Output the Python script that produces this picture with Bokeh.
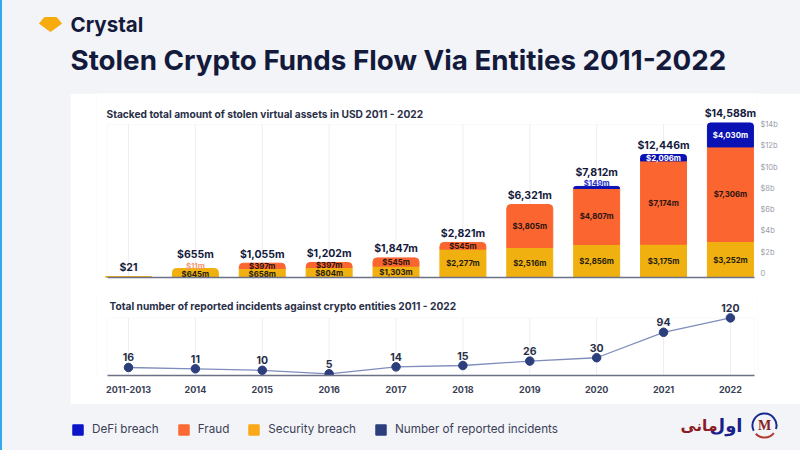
from bokeh.plotting import figure
from bokeh.layouts import column
from bokeh.embed import file_html
from bokeh.resources import INLINE
from bokeh.core.properties import value
from bokeh.models import (ColumnDataSource, CDSView, BooleanFilter, Range1d, LinearAxis, FixedTicker,
                          BoxAnnotation, Legend, LegendItem)

# ---------- data ----------
categories = ["2011-2013", "2014", "2015", "2016", "2017", "2018", "2019", "2020", "2021", "2022"]

# Bar heights as they read against the right-hand axis of the picture ($m)
security_height = [85, 845, 845, 940, 1060, 2660, 2815, 3100, 3125, 3380]
fraud_height = [0, 0, 500, 470, 780, 630, 4040, 5260, 7820, 8880]
defi_height = [0, 0, 0, 0, 0, 0, 0, 190, 600, 2250]

# Printed labels
total_labels = ["$21", "$655m", "$1,055m", "$1,202m", "$1,847m", "$2,821m", "$6,321m", "$7,812m", "$12,446m", "$14,588m"]
security_labels = ["", "$645m", "$658m", "$804m", "$1,303m", "$2,277m", "$2,516m", "$2,856m", "$3,175m", "$3,252m"]
fraud_labels = ["", "$11m", "$397m", "$397m", "$545m", "$545m", "$3,805m", "$4,807m", "$7,174m", "$7,306m"]
defi_labels = ["", "", "", "", "", "", "", "$149m", "$2,096m", "$4,030m"]

incident_height = [16.7, 14, 10.8, 3.5, 18, 20.8, 30, 37, 90, 120]
incident_labels = ["16", "11", "10", "5", "14", "15", "26", "30", "94", "120"]

y_tick_values = [0, 2000, 4000, 6000, 8000, 10000, 12000, 14000]
y_tick_labels = ["0", "$2b", "$4b", "$6b", "$8b", "$10b", "$12b", "$14b"]

legend_labels = ["DeFi breach", "Fraud", "Security breach", "Number of reported incidents"]

# ---------- style ----------
PAGE = "#f2f4f7"
DEFI, FRAUD, SEC, NAVY = "#0a12b4", "#fb652f", "#f0b00f", "#2c3f7c"
INK = "#141a3c"
GRID = "#eeeef2"
FONT = value("Inter")
CARD_W, PAD_L, PAD_R = 730, 26, 43
X_LO, X_HI = -0.314, 9.36
idx = list(range(len(categories)))


def chart(height, top, bottom_border, margin_top=0):
    f = figure(width=CARD_W, height=height, output_backend="svg", toolbar_location=None,
               x_range=Range1d(X_LO - 11 / 66.9, X_HI + 3 / 66.9), y_range=Range1d(0, top),
               min_border_left=PAD_L, min_border_right=PAD_R, min_border_top=0,
               min_border_bottom=bottom_border, x_axis_location=None, y_axis_location=None,
               border_fill_color="white", background_fill_color="white", outline_line_color=None,
               margin=(margin_top, 0, 0, 70), frame_align=False)
    f.grid.visible = False
    return f


def band(width, height, top, bottom):
    f = figure(width=width, height=height, output_backend="svg", toolbar_location=None,
               x_range=Range1d(0, width), y_range=Range1d(bottom, top),
               x_axis_location=None, y_axis_location=None, min_border=0,
               border_fill_color=None, background_fill_color=None, outline_line_color=None,
               margin=0, frame_align=False)
    f.grid.visible = False
    return f


def baseline(f, labels_on):
    ax = LinearAxis(ticker=FixedTicker(ticks=idx if labels_on else []), bounds=(X_LO, X_HI))
    ax.major_tick_line_color = None
    ax.minor_tick_line_color = None
    ax.axis_line_color = "#6d7186"
    ax.axis_line_width = 1.5
    if labels_on:
        ax.major_label_overrides = {i: c for i, c in zip(idx, categories)}
        ax.major_label_text_font = "Inter"
        ax.major_label_text_font_size = "9px"
        ax.major_label_text_font_style = "bold"
        ax.major_label_text_color = "#3a3f55"
        ax.major_label_standoff = 4
    f.add_layout(ax, "below")


def labelled(f, ys, labels, colors, offsets, size):
    keep = [i for i, t in enumerate(labels) if t]
    f.text([idx[i] for i in keep], [ys[i] for i in keep], text=[labels[i] for i in keep],
           text_font=FONT, text_font_style="bold", text_font_size=size,
           text_color=[colors[i] for i in keep], y_offset=[offsets[i] for i in keep],
           text_align="center", text_baseline="middle")


# ---------- header ----------
head = band(800, 93, 0, 93)
head.patch([39, 44, 56, 61, 50], [23, 17, 17, 23, 31], color="#f7ab0c")
head.text([70], [24], text=["Crystal"], text_font=FONT, text_font_style="bold", text_font_size="20.5px",
          text_color=INK, text_baseline="middle")
head.text([70], [59], text=["Stolen Crypto Funds Flow Via Entities 2011-2022"], text_font=FONT,
          text_font_style="bold", text_font_size="27.75px", text_color=INK, text_baseline="middle")

# ---------- stacked bars ----------
PX_PER_M = 0.01065
bars = chart(203, 184 / PX_PER_M, 19)
bars_top = 153 / PX_PER_M
bars.add_layout(BoxAnnotation(left=X_LO, right=X_HI, bottom=0, top=bars_top, fill_alpha=0,
                              line_color=GRID, line_width=1, level="underlay"))
bars.segment(x0=idx[:], y0=[0] * 10, x1=idx[:], y1=[bars_top] * 10, line_color=GRID, line_width=1, level="underlay")

sec_top = security_height
fr_top = [a + b for a, b in zip(sec_top, fraud_height)]
de_top = [a + b for a, b in zip(fr_top, defi_height)]
src = ColumnDataSource(dict(x=idx, s0=[0] * 10, s1=sec_top, f1=fr_top, d1=de_top, cat=categories))
W = 46 / 66.9
R = (4, 4, 0, 0)
sec_round = [b == 0 and i > 0 for i, b in enumerate(fraud_height)]
fr_round = [f > 0 and d == 0 and i < 7 for i, (f, d) in enumerate(zip(fraud_height, defi_height))]
fr_has = [f > 0 for f in fraud_height]
de_has = [d > 0 for d in defi_height]
bars.vbar(x="x", bottom="s0", top="s1", width=W, color=SEC, source=src,
          view=CDSView(filter=BooleanFilter([not v for v in sec_round])))
bars.vbar(x="x", bottom="s0", top="s1", width=W, color=SEC, source=src, border_radius=R,
          view=CDSView(filter=BooleanFilter(sec_round)))
bars.vbar(x="x", bottom="s1", top="f1", width=W, color=FRAUD, source=src,
          view=CDSView(filter=BooleanFilter([h and not r for h, r in zip(fr_has, fr_round)])))
bars.vbar(x="x", bottom="s1", top="f1", width=W, color=FRAUD, source=src, border_radius=R,
          view=CDSView(filter=BooleanFilter(fr_round)))
bars.vbar(x="x", bottom="f1", top="d1", width=W, color=DEFI, source=src, border_radius=(3, 3, 0, 0),
          view=CDSView(filter=BooleanFilter(de_has)))

SEG = "7.8px"
labelled(bars, [h / 2 for h in sec_top], security_labels, ["#241c14"] * 10,
         [1 if h < 1000 else 0 for h in sec_top], SEG)
labelled(bars, [(a + b) / 2 for a, b in zip(sec_top, fr_top)], fraud_labels,
         ["#f09a78" if h == 0 else "#2a1410" for h in fraud_height],
         [-3 if h == 0 else 0 for h in fraud_height], SEG)
labelled(bars, [(a + b) / 2 for a, b in zip(fr_top, de_top)], defi_labels,
         ["#2430c8" if 0 < h < 300 else "white" for h in defi_height],
         [-4 if 0 < h < 300 else 0 for h in defi_height], SEG)
thin_top = [(f == 0 and i == 1) or 0 < d < 300 for i, (f, d) in enumerate(zip(fraud_height, defi_height))]
labelled(bars, de_top, total_labels, [INK] * 10, [-14 if t else -9 for t in thin_top], "10.5px")
bars.text([X_LO], [bars_top], text=["Stacked total amount of stolen virtual assets in USD 2011 - 2022"],
          text_font=FONT, text_font_style="bold", text_font_size="10.2px", text_color="#2a2f48",
          text_baseline="middle", y_offset=[-11], x_offset=[-1])

baseline(bars, False)
# the reference prints its scale 4px above the bars' baseline
bars.extra_y_ranges = {"scale": Range1d(-4 / PX_PER_M, 180 / PX_PER_M)}
yax = LinearAxis(y_range_name="scale", ticker=FixedTicker(ticks=y_tick_values),
                 major_label_overrides=dict(zip(y_tick_values, y_tick_labels)))
yax.axis_line_color = None
yax.major_tick_line_color = None
yax.minor_tick_line_color = None
yax.major_label_text_font = "Inter"
yax.major_label_text_font_size = "7.5px"
yax.major_label_text_color = "#9a9cab"
yax.major_label_standoff = -3
bars.add_layout(yax, "right")

# ---------- incidents ----------
PX_PER_INC = 0.48
line = chart(109, 80 / PX_PER_INC, 29, margin_top=-1)
line.add_layout(BoxAnnotation(left=X_LO, right=X_HI, bottom=0, top=120, fill_alpha=0,
                              line_color=GRID, line_width=1, level="underlay"))
line.segment(x0=idx[:], y0=[0] * 10, x1=idx[:], y1=[120] * 10, line_color=GRID, line_width=1, level="underlay")
line.line(idx, incident_height, line_color="#7f8dbd", line_width=1.3)
line.scatter(idx, incident_height, size=8.5, color=NAVY)
labelled(line, incident_height, incident_labels, ["#2a2f48"] * 10, [-10] * 10, "10.5px")
line.text([X_LO], [120], text=["Total number of reported incidents against crypto entities 2011 - 2022"],
          text_font=FONT, text_font_style="bold", text_font_size="10.2px", text_color="#2a2f48",
          text_baseline="middle", y_offset=[-12], x_offset=[2])
baseline(line, True)

# ---------- legend and logo ----------
foot = band(800, 46, 404, 450)
swatches = [foot.vbar(x=[-50], top=[460], bottom=[455], width=1, color=c)
            for c in ("#0a14c8", "#fb6a35", "#fba919", NAVY)]
legend = Legend(items=[LegendItem(label=l, renderers=[r]) for l, r in zip(legend_labels, swatches)],
                orientation="horizontal", location=(71, 14), padding=0, margin=0, spacing=18,
                glyph_width=13, glyph_height=13, label_standoff=8, label_height=13,
                background_fill_alpha=0, border_line_color=None,
                label_text_font="Inter", label_text_font_size="11.7px", label_text_color="#3c4158")
foot.add_layout(legend, "center")

foot.arc([764], [425], radius=12, start_angle=-0.3, end_angle=3.6, line_color="#1a2a8c", line_width=2)
foot.arc([764], [425], radius=12, start_angle=3.9, end_angle=5.6, line_color="#b03a30", line_width=2)
foot.text([764], [425], text=["M"], text_font=value("Liberation Serif"), text_font_style="bold",
          text_font_size="14px", text_color="#8c1c24", text_align="center", text_baseline="middle")
foot.text([742], [425], text=["اول"], text_font=value("DejaVu Sans"), text_font_style="bold",
          text_font_size="18px", text_color="#1a1f8c", text_align="right", text_baseline="middle")
foot.text([717], [425], text=["مانی"], text_font=value("DejaVu Sans"), text_font_style="bold",
          text_font_size="15.5px", text_color="#8c1c24", text_align="right", text_baseline="middle")

page = column(head, bars, line, foot, spacing=0, width=800, height=450,
              styles={"background": f"linear-gradient(to right, #2fa8ee 2px, {PAGE} 2px)"})

open("out.html", "w").write(file_html(page, INLINE))
